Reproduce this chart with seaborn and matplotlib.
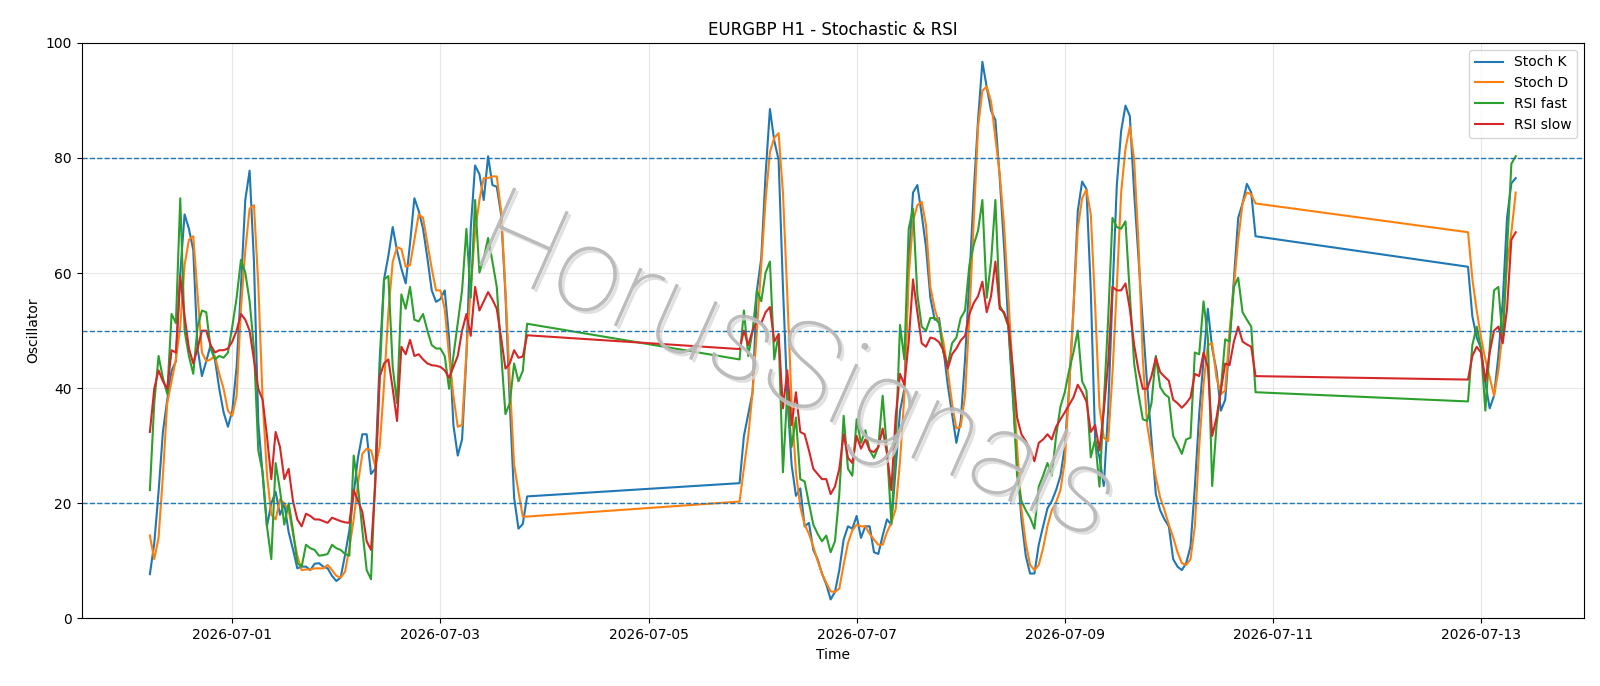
import pandas as pd
import seaborn as sns
import matplotlib
matplotlib.use("Agg")
import matplotlib.pyplot as plt
import matplotlib.dates as mdates
import matplotlib.patheffects as pe

# heures depuis 2026-07-01 00:00 (pas de cotation le week-end)
hours = list(range(-19, 69)) + list(range(117, 237)) + list(range(285, 297))

stoch_k = [7.7, 13, 22, 32.4, 38, 43, 44.7, 60, 70.2, 67.7, 64, 46.9, 42.1, 44.7, 47.5, 45, 39.9, 35.8, 33.3, 36.1,
           43.7, 57.6, 72.7, 77.8, 62, 34, 25, 16, 20, 22, 18, 20, 15, 12, 8.7, 9, 9, 8.4, 9.5, 9.6,
           9, 8.7, 7.4, 6.5, 7.1, 11, 15.3, 21.6, 28, 32, 32, 25.1, 26, 45, 58.9, 63, 68, 63.9, 60.8, 58.2,
           65.2, 73, 70.8, 67.7, 62.6, 57, 55, 55.5, 57, 48.8, 33.6, 28.3, 31.1, 45.6, 67.7, 78.7, 77.2, 72.7, 80.3, 75.3,
           75, 70.2, 56.3, 37.4, 21, 15.6, 16.4, 21.2,
           23.5, 31.7, 35.5, 39.3, 57, 62.6, 77.2, 88.5, 83, 79.7, 57.6, 38.7, 26.7, 21.3, 22.6, 16, 16.6, 11.9, 10.3, 7.8,
           5.9, 3.3, 4.6, 8.4, 13.7, 16, 15.6, 17.8, 14, 16, 16, 11.5, 11.2, 14.4, 17.2, 16.3, 26, 36, 39.9, 61.4,
           74, 75.3, 70.2, 64.5, 55.7, 51.9, 52.2, 46.9, 40.6, 35.5, 30.5, 34.3, 45, 58.9, 74, 86.6, 96.7, 92.3, 88.2, 86.6,
           76.5, 64.5, 50.7, 38.7, 27.3, 17.2, 10.9, 7.8, 7.8, 12.8, 16, 19.1, 20.4, 22.3, 24.8, 29.8, 39.9, 53.8, 70.8, 75.9,
           74.6, 57, 31.1, 28, 23, 36, 56.3, 75.3, 84.7, 89.1, 87.3, 74, 62.6, 51.3, 40.6, 31.1, 21.6, 18.8, 17.2, 16,
           10.3, 9, 8.4, 9.6, 12.5, 22.9, 35.5, 45, 53.8, 46.9, 43.1, 36.1, 38, 48.1, 58.9, 69.6, 72.1, 75.5, 74, 66.4,
           61.1, 52.5, 48.8, 46.9, 40.9, 36.5, 38.7, 45.6, 55, 69.6, 75.6, 76.5]
stoch_d = [14.4, 10.3, 14, 24.8, 37.4, 41.2, 45, 50.7, 61.4, 65.8, 66.4, 56.3, 46.2, 44.7, 45, 45.6, 42.5, 39.9, 36.1, 35.2,
           38.7, 53.8, 63.9, 71.2, 71.8, 58, 38, 25, 18, 17.2, 20.7, 20, 18.8, 14.7, 10.9, 8.4, 8.5, 8.5, 8.7, 8.7,
           8.7, 9.3, 8.4, 7.4, 7.1, 8.1, 12.2, 17.2, 23.5, 28.6, 29.5, 29.2, 26.4, 29.8, 40.6, 53.2, 62, 64.5, 64.2, 61.1,
           61.4, 65.8, 70.2, 69.6, 65.2, 60.8, 57, 57, 53.8, 45.6, 38.7, 33.3, 33.6, 46.2, 57.6, 67.1, 72.7, 76.5, 76.5, 76.8,
           76.8, 70.8, 57, 41.2, 26.7, 22, 17.7, 17.7,
           20.3, 26.1, 31.7, 39.3, 50, 61.4, 72.7, 81, 83.5, 84.3, 74, 56.3, 37.4, 25.4, 19.4, 16.3, 14.7, 12.5, 10, 7.8,
           6.2, 4.7, 4.6, 5.2, 9.3, 13.1, 15.3, 16.3, 16, 16, 14.7, 13.7, 12.8, 12.8, 15, 16.6, 19, 27.3, 38.7, 59.5,
           69, 71.8, 72.4, 68.3, 57.6, 53.8, 51.3, 48.1, 43.1, 37.4, 33, 33.3, 38.7, 52.5, 69, 85.4, 91.7, 92.4, 89.8, 83.5,
           77.2, 68.3, 55.7, 42.5, 29.8, 19.1, 13.1, 9.3, 8.4, 9.3, 12.2, 16, 18.8, 20.2, 22.3, 27.3, 40, 53.8, 67.7, 73,
           74.5, 70.2, 54.4, 36.8, 31.4, 30.8, 42.5, 57.6, 74, 81.6, 85.4, 79.7, 65.2, 45, 33.6, 28.9, 24.5, 21, 18.8, 16.3,
           14.1, 11.5, 9.6, 9.3, 10.3, 16, 29.8, 40.6, 47.5, 47.8, 41.8, 39, 39.6, 50, 57.6, 65.8, 72.1, 74, 73.7, 72.1,
           67.1, 59, 53.5, 48.8, 45, 41.9, 38.7, 43, 50, 61.4, 67.1, 74]
rsi_fast = [22.3, 37.4, 45.6, 41.8, 39, 52.9, 51.3, 73, 50, 45.6, 42.5, 50.7, 53.5, 53.2, 46.9, 45, 45.6, 45.3, 46.2, 50.7,
            55.7, 62.3, 60.1, 55.1, 46.9, 29.2, 25.4, 16, 10.3, 27, 22.3, 16.3, 20, 15.3, 9.6, 9, 12.8, 12.2, 11.9, 10.9,
            11, 11.2, 12.8, 12.2, 11.9, 11.2, 10.9, 28.3, 22.9, 15.3, 8.4, 6.8, 25, 42, 58.9, 59.5, 43.7, 37.4, 56.3, 53.8,
            57.6, 51.9, 51.6, 52.9, 50, 47.5, 46.9, 46.9, 45.6, 39.9, 45.6, 51.3, 57, 67.7, 55.7, 72.7, 60.1, 62.6, 66.1, 62,
            57.6, 46.2, 35.5, 37.4, 44.3, 41.2, 43, 51.2,
            45, 53.5, 45.6, 50, 57, 55.1, 60.1, 62, 45, 49.4, 25.4, 39.3, 29.8, 34.9, 24.2, 23.8, 20, 16.3, 14.7, 13.4,
            14.4, 11.5, 13.4, 21.6, 35.2, 26, 24.8, 34.6, 30.5, 32.7, 29.2, 27.9, 29.8, 38.7, 29.2, 16.6, 30, 51, 45, 67.7,
            71.2, 56.3, 50.7, 50, 52.2, 52.2, 51.3, 46.2, 44, 47.8, 48.8, 52.2, 53.5, 61.4, 64.9, 67.4, 72.7, 55.7, 62, 72.7,
            54.4, 52.9, 50.7, 39.9, 24.8, 20.4, 18.8, 17.5, 15.6, 22.9, 24.8, 27, 24.8, 31.7, 36.8, 39.3, 43.1, 46.2, 50, 41.2,
            39.6, 28, 31.1, 22.9, 37.4, 51.9, 69.6, 68, 67.7, 69, 56.3, 44.3, 39, 34.6, 34.3, 37.4, 45.6, 40.2, 39, 38.4,
            31.7, 30.2, 28.6, 31.1, 31.4, 46.2, 45.9, 55.1, 48.8, 23, 33.6, 39.9, 48.5, 48.1, 57.6, 59.2, 53.2, 51.9, 50.7, 39.3,
            37.7, 47.5, 50.7, 46.9, 36.1, 47, 57, 57.6, 48.1, 64, 79, 80.3]
rsi_slow = [32.4, 39.9, 43.1, 41.2, 39.9, 46.6, 46.2, 59.5, 52.5, 46.9, 44.3, 46.9, 50, 50, 47.5, 46.2, 46.6, 46.6, 46.9, 48.1,
            50, 52.9, 51.9, 50, 45, 39.9, 38, 31.7, 24.2, 32.4, 29.8, 24.2, 26, 20.4, 17.2, 16, 18.2, 17.8, 17.2, 17.2,
            16.9, 16.6, 17.5, 17.2, 16.9, 16.7, 16.6, 22.3, 20.4, 18.5, 13.4, 11.9, 23.5, 42, 44.3, 45, 39.9, 34.3, 47.2, 45.9,
            48.4, 45.6, 45.9, 45, 44.3, 44, 43.9, 43.7, 43.1, 41.8, 43.7, 45.6, 50, 52.9, 49.1, 57.6, 53.5, 55.1, 56.7, 55.4,
            53.8, 48.8, 43.4, 44.3, 46.6, 45.3, 45.5, 49.2,
            46.8, 50, 47.5, 50, 51.6, 51.3, 53.2, 54.1, 48.1, 49.4, 36.5, 43.1, 33.6, 39.3, 32.4, 32, 29.2, 26, 25.1, 24.2,
            24.2, 21.6, 22.9, 26, 32, 27.9, 27, 31.7, 29.5, 31.1, 29.2, 28.9, 29.8, 33, 28.6, 22.3, 35, 42.5, 40.6, 48.1,
            58.9, 53.2, 47.8, 47.2, 48.8, 48.6, 48, 46.6, 43.4, 45.9, 46.9, 48.3, 49.1, 52.9, 54.8, 56, 58.5, 53.2, 56, 62,
            53.8, 53.2, 51, 43.7, 34.9, 32, 30.8, 29.5, 27.3, 30.5, 31.1, 32, 31.1, 33.3, 34.6, 35.8, 37.1, 38.4, 40.6, 39.3,
            37.7, 32.4, 33.6, 29.2, 36.1, 44.3, 57.6, 57, 57, 58.2, 53.8, 47.5, 43.1, 39.9, 39.9, 42.1, 45.3, 42.8, 42, 41.3,
            38, 37.4, 36.6, 37.4, 38.4, 42.5, 42.1, 46.2, 43.7, 31.7, 34.9, 39.6, 44.3, 44, 48.1, 50.7, 48.1, 47.6, 47.2, 42.1,
            41.5, 45.6, 47.2, 46.2, 41.2, 46.2, 50, 50.7, 47.8, 53.8, 65.8, 67.1]

series_names = ["Stoch K", "Stoch D", "RSI fast", "RSI slow"]
levels = [20, 50, 80]
tick_days = ["2026-07-01", "2026-07-03", "2026-07-05", "2026-07-07", "2026-07-09", "2026-07-11", "2026-07-13"]

temps = pd.Timestamp("2026-07-01") + pd.to_timedelta(hours, unit="h")
df = pd.DataFrame({"time": temps, "Stoch K": stoch_k, "Stoch D": stoch_d,
                   "RSI fast": rsi_fast, "RSI slow": rsi_slow})

fig, ax = plt.subplots(figsize=(16, 6.86), dpi=100)
fig.subplots_adjust(left=0.051, right=0.99, top=0.9375, bottom=0.0985)

couleurs = sns.color_palette("tab10", 4)
for nom, c in zip(series_names, couleurs):
    sns.lineplot(data=df, x="time", y=nom, ax=ax, color=c, label=nom, linewidth=1.5, sort=False)

for lv in levels:
    ax.axhline(lv, color="tab:blue", linestyle="--", linewidth=1)

ax.set_ylim(0, 100)
ax.set_xticks(pd.to_datetime(tick_days))
ax.xaxis.set_major_formatter(mdates.DateFormatter("%Y-%m-%d"))
ax.grid(True, alpha=0.3)
ax.set_title("EURGBP H1 - Stochastic & RSI")
ax.set_xlabel("Time")
ax.set_ylabel("Oscillator")
ax.legend(loc="upper right")

# filigrane (police fine, gris clair, légère ombre)
ax.text(0.475, 0.43, "HorusSignals", transform=ax.transAxes, fontsize=86, rotation=-24,
        family=["Roboto", "DejaVu Sans"], fontweight="light",
        ha="center", va="center", color="#b8b8b8", alpha=0.75, zorder=3,
        path_effects=[pe.withSimplePatchShadow(offset=(2, -2), shadow_rgbFace="#dadada", alpha=0.8),
                      pe.Normal()])

plt.savefig("out.png", dpi=100)
